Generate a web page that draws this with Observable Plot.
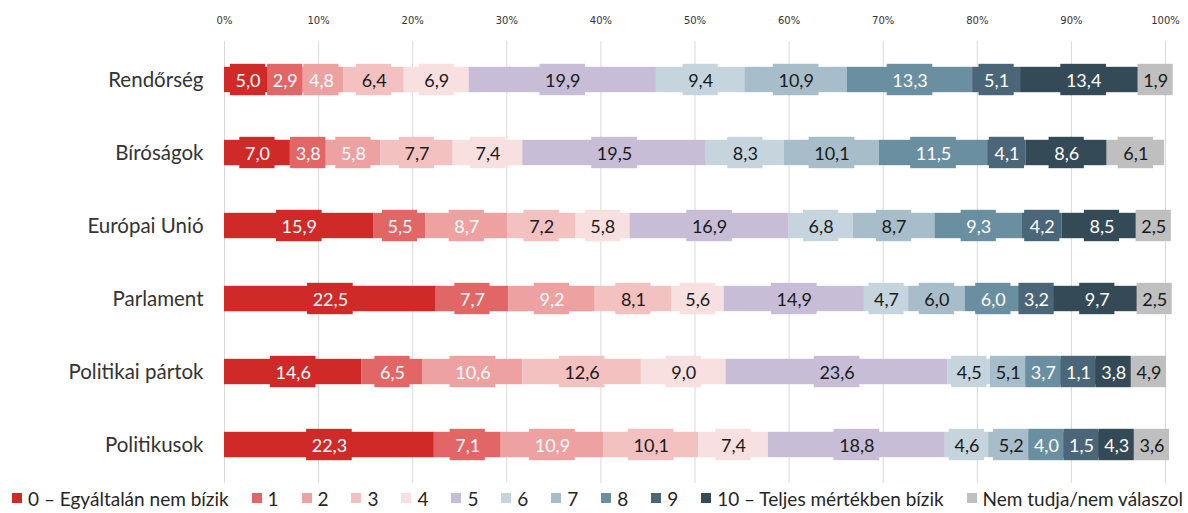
<!DOCTYPE html>
<html><head><meta charset="utf-8">
<script src="https://cdn.jsdelivr.net/npm/d3@7"></script>
<script src="https://cdn.jsdelivr.net/npm/@observablehq/plot@0.6"></script>
<style>
body{margin:0;background:#fff;font-family:Lato,sans-serif;}
#legend{display:flex;justify-content:space-between;align-items:center;height:26px;width:1171px;padding-left:12px;font-size:19px;color:#262626;white-space:nowrap}
.item{display:flex;align-items:center}
.sw{width:10px;height:10px;margin-right:6px}
</style></head><body><div id="chart"></div><div id="legend"></div>
<script>
const categories = ["Rendőrség", "Bíróságok", "Európai Unió", "Parlament", "Politikai pártok", "Politikusok"];
const levels = ["0 – Egyáltalán nem bízik", "1", "2", "3", "4", "5", "6", "7", "8", "9", "10 – Teljes mértékben bízik", "Nem tudja/nem válaszol"];
const xTicks = [0, 10, 20, 30, 40, 50, 60, 70, 80, 90, 100];

const rendorseg   = [5.0, 2.9, 4.8, 6.4, 6.9, 19.9, 9.4, 10.9, 13.3, 5.1, 13.4, 1.9];
const birosagok   = [7.0, 3.8, 5.8, 7.7, 7.4, 19.5, 8.3, 10.1, 11.5, 4.1, 8.6, 6.1];
const europaiUnio = [15.9, 5.5, 8.7, 7.2, 5.8, 16.9, 6.8, 8.7, 9.3, 4.2, 8.5, 2.5];
const parlament   = [22.5, 7.7, 9.2, 8.1, 5.6, 14.9, 4.7, 6.0, 6.0, 3.2, 9.7, 2.5];
const partok      = [14.6, 6.5, 10.6, 12.6, 9.0, 23.6, 4.5, 5.1, 3.7, 1.1, 3.8, 4.9];
const politikusok = [22.3, 7.1, 10.9, 10.1, 7.4, 18.8, 4.6, 5.2, 4.0, 1.5, 4.3, 3.6];
const series = [rendorseg, birosagok, europaiUnio, parlament, partok, politikusok];

const palette = ["#cf2a27", "#e36666", "#eea1a1", "#f4c1c1", "#f8dfe0", "#c8bdd6", "#c6d5dd", "#a7bdc9", "#6a8fa1", "#4b6678", "#344a57", "#bfbfbf"];
const textPalette = ["#fff", "#fff", "#fff", "#1a1a1a", "#1a1a1a", "#1a1a1a", "#1a1a1a", "#1a1a1a", "#fff", "#fff", "#fff", "#1a1a1a"];

const W = 1188, H = 485, mL = 224, mR = 23, mT = 41, mB = 2;
const pxPerUnit = (W - mL - mR) / 100;
const fontSize = 18;
const pad = 5;

const rows = [];
categories.forEach((cat, ci) => {
  let acc = 0;
  const rowItems = [];
  series[ci].forEach((v, li) => {
    const label = v.toFixed(1).replace(".", ",");
    const digits = label.replace(",", "").length;
    const textW = digits * 0.58 * fontSize + 0.24 * fontSize;
    const bw = textW + 2 * pad; // label box width in px
    const mid = acc + v / 2;
    rowItems.push({cat, level: levels[li], li, value: v, x1: acc, x2: acc + v, mid, c: mid * pxPerUnit, bw, label});
    acc += v;
  });
  // resolve label overlaps (spread neighbours apart)
  for (let k = 0; k < 200; k++) {
    for (let i = 0; i < rowItems.length - 1; i++) {
      const a = rowItems[i], b = rowItems[i + 1];
      const ov = (a.bw + b.bw) / 2 - (b.c - a.c);
      if (ov > 0.01) { a.c -= ov / 2; b.c += ov / 2; }
    }
  }
  rowItems.forEach(d => {
    d.lc = d.c / pxPerUnit;
    d.lx1 = (d.c - d.bw / 2) / pxPerUnit;
    d.lx2 = (d.c + d.bw / 2) / pxPerUnit;
    rows.push(d);
  });
});

const chart = Plot.plot({
  width: W, height: H,
  marginLeft: mL, marginRight: mR, marginTop: mT, marginBottom: mB,
  style: {fontFamily: "Lato, sans-serif", background: "#fff"},
  x: {domain: [0, 100], axis: null},
  y: {domain: categories, padding: 0, axis: null},
  color: {domain: levels, range: palette},
  marks: [
    Plot.gridX(xTicks, {stroke: "#d9d9d9", strokeOpacity: 1, strokeWidth: 1}),
    Plot.axisX(xTicks, {anchor: "top", tickSize: 0, tickPadding: 18, tickFormat: d => d + "%", fontSize: 10, fontFamily: "DejaVu Sans, sans-serif", fill: "#333", label: null}),
    Plot.axisY({anchor: "left", tickSize: 0, tickPadding: 21, fontSize: 20.5, fill: "#333", label: null}),
    Plot.barX(rows, {x1: "x1", x2: "x2", y: "cat", fill: "level", insetTop: 23.8, insetBottom: 23.8}),
    Plot.barX(rows, {x1: "lx1", x2: "lx2", y: "cat", fill: "level", insetTop: 20.8, insetBottom: 20.8}),
    Plot.text(rows, {x: "lc", y: "cat", text: "label", fill: d => textPalette[d.li], fontSize: fontSize, dy: 1})
  ]
});
document.getElementById("chart").appendChild(chart);

const legend = document.getElementById("legend");
levels.forEach((l, i) => {
  const it = document.createElement("div");
  it.className = "item";
  const sw = document.createElement("span");
  sw.className = "sw";
  sw.style.background = palette[i];
  const tx = document.createElement("span");
  tx.textContent = l;
  it.appendChild(sw); it.appendChild(tx);
  legend.appendChild(it);
});
</script></body></html>
